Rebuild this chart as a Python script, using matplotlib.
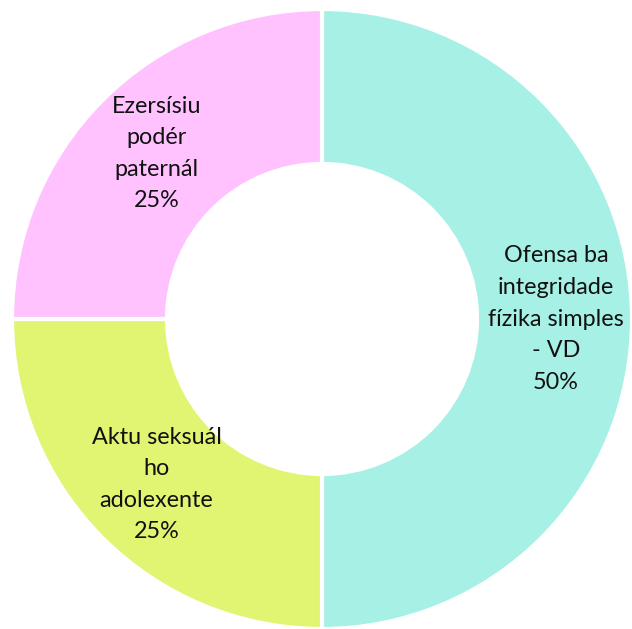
import numpy as np
import matplotlib
matplotlib.use("Agg")
import matplotlib.pyplot as plt

labels = ["Ofensa ba\nintegridade\nfízika simples\n- VD",
          "Aktu seksuál\nho\nadolexente",
          "Ezersísiu\npodér\npaternál"]
values = [50, 25, 25]
colors = ["#a6f0e6", "#e2f572", "#ffc2ff"]

plt.rcParams["font.family"] = ["Lato", "DejaVu Sans"]

fig = plt.figure(figsize=(6.32, 6.29), dpi=100)
ax = fig.add_axes([0, 0, 1, 1])
wedges, _ = ax.pie(values, colors=colors, startangle=90, counterclock=False,
                   radius=1.0, wedgeprops=dict(width=0.5, edgecolor="white", linewidth=3))

total = sum(values)
for w, lab, v in zip(wedges, labels, values):
    ang = np.deg2rad((w.theta1 + w.theta2) / 2)
    x, y = 0.755 * np.cos(ang), 0.755 * np.sin(ang)
    ax.text(x, y, f"{lab}\n{v / total * 100:.0f}%", ha="center", va="center",
            fontsize=16.8, color="#111111", linespacing=1.62)

ax.set_xlim(-322 / 310, 310 / 310)
ax.set_ylim(-310 / 310, 319 / 310)
ax.set_aspect("auto")
ax.axis("off")
fig.savefig("out.png", dpi=100, facecolor="white")
